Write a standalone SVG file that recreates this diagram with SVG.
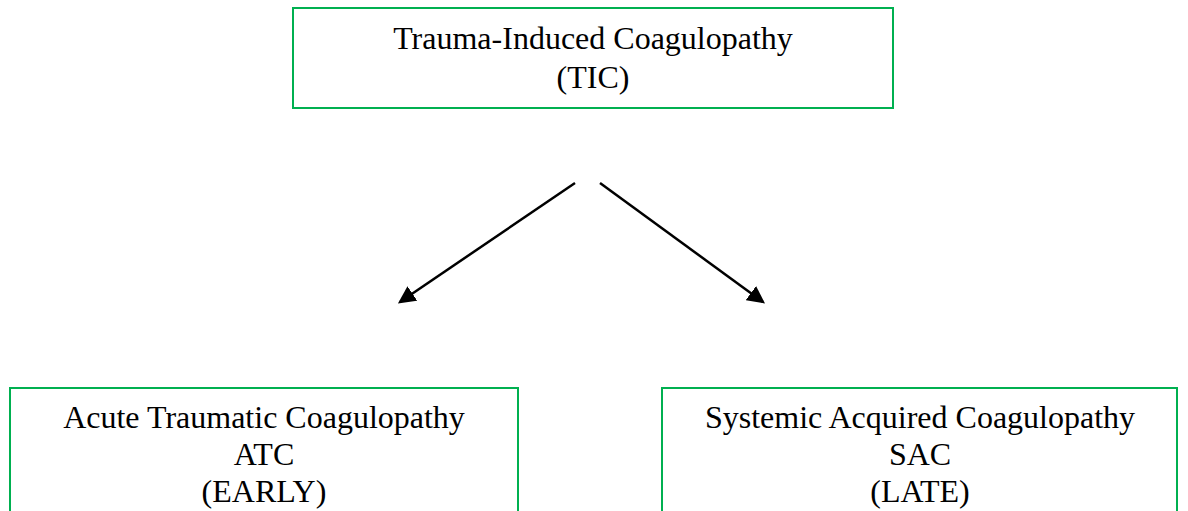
<svg xmlns="http://www.w3.org/2000/svg" width="1188" height="511" viewBox="0 0 1188 511">
<style>
.box{fill:#fff;stroke:#00B050;stroke-width:2}
.t{font-family:"Liberation Serif","Times New Roman",serif;font-size:32px;fill:#000;text-anchor:middle}
.c{stroke:#000;stroke-width:2.5;fill:none}
</style>
<defs>
<marker id="ah" markerWidth="7" markerHeight="7" refX="6" refY="3.5" orient="auto" markerUnits="strokeWidth">
<path d="M0,0 L7,3.5 L0,7 z" fill="#000"/>
</marker>
</defs>
<rect width="1188" height="511" fill="#fff"/>
<g id="tic">
<rect class="box" x="293" y="8" width="600" height="100"/>
<text class="t" x="593" y="49">Trauma-Induced Coagulopathy</text>
<text class="t" x="593" y="88">(TIC)</text>
</g>
<g id="atc">
<rect class="box" x="10" y="388" width="508" height="140"/>
<text class="t" x="264" y="428">Acute Traumatic Coagulopathy</text>
<text class="t" x="264" y="465">ATC</text>
<text class="t" x="264" y="502">(EARLY)</text>
</g>
<g id="sac">
<rect class="box" x="662" y="388" width="515" height="140"/>
<text class="t" x="920" y="428">Systemic Acquired Coagulopathy</text>
<text class="t" x="920" y="465">SAC</text>
<text class="t" x="920" y="502">(LATE)</text>
</g>
<g id="connectors">
<line class="c" x1="575" y1="183" x2="400" y2="302" marker-end="url(#ah)"/>
<line class="c" x1="600" y1="183" x2="763" y2="302" marker-end="url(#ah)"/>
</g>
</svg>
